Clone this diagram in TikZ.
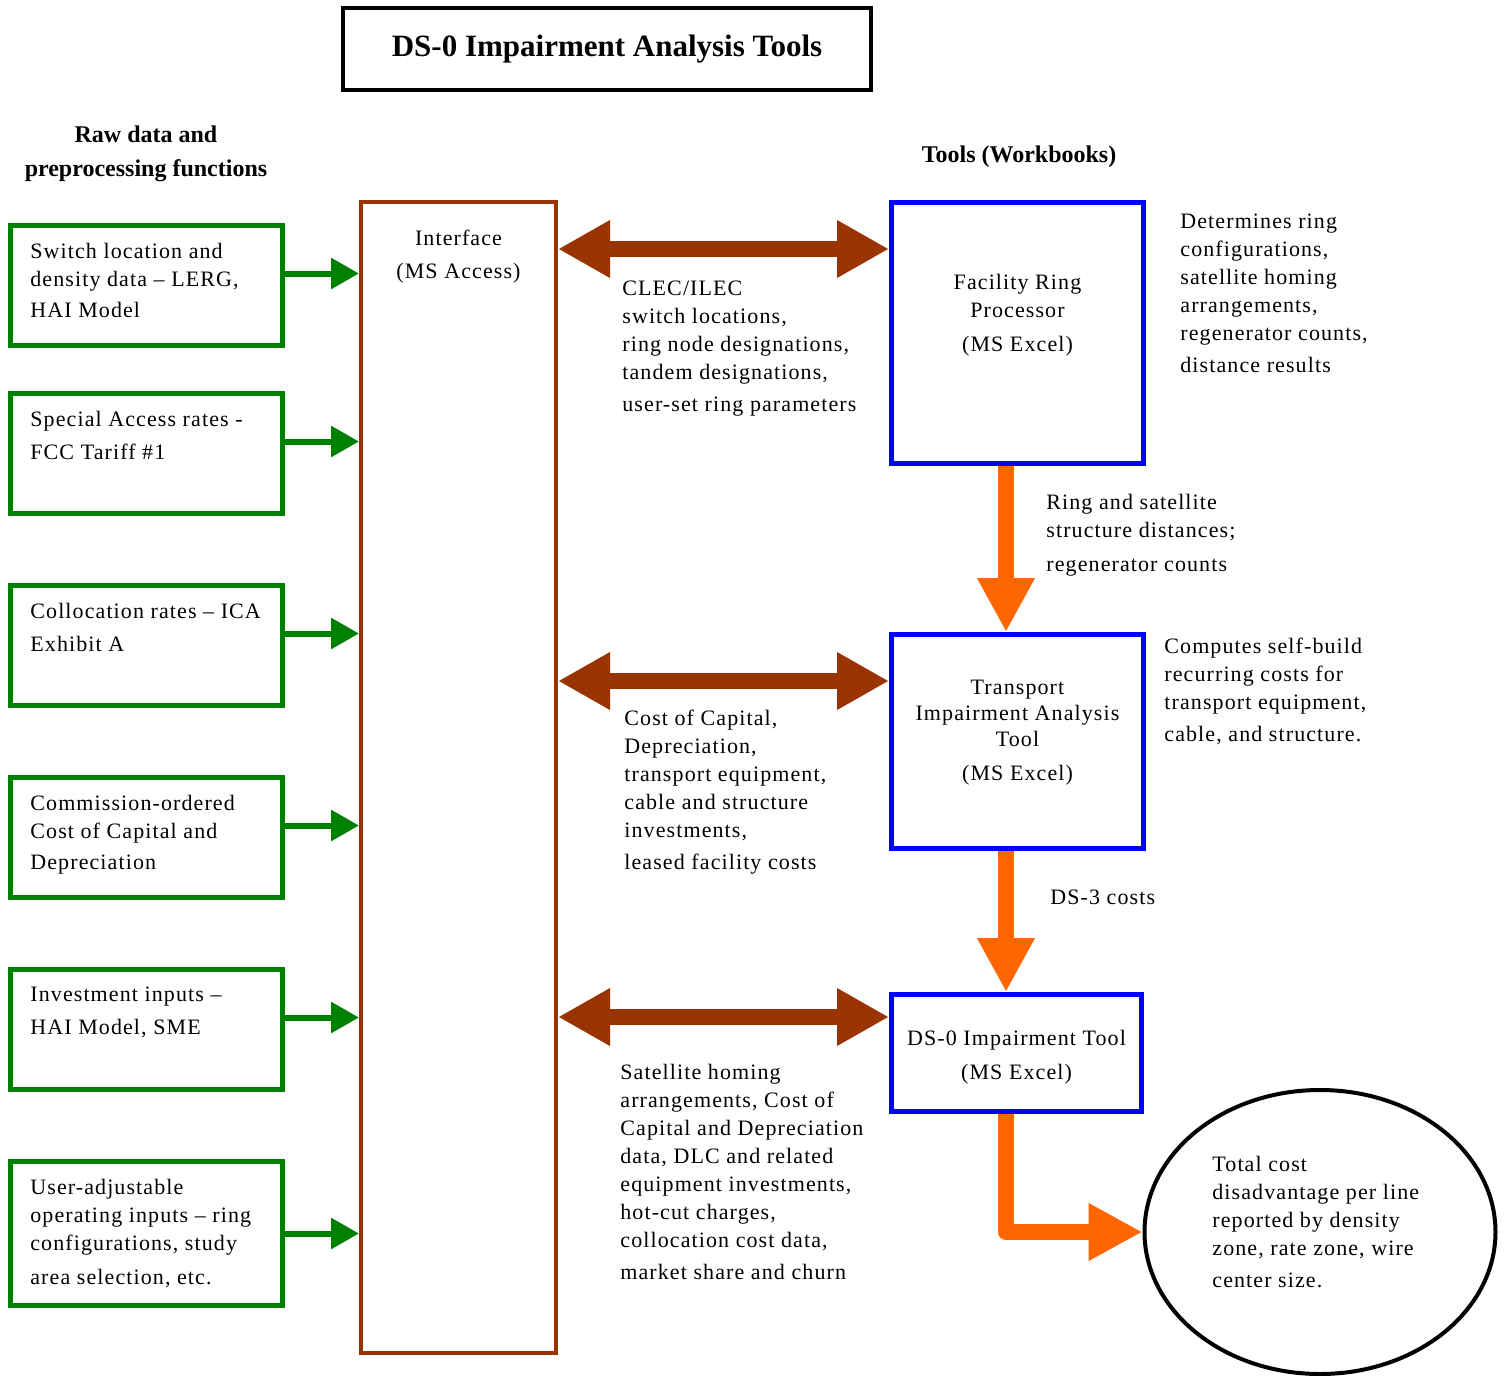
\documentclass[tikz,border=0pt]{standalone}
\usepackage{fontspec}
\setmainfont{Liberation Serif}
\newfontfamily\bodyfont[LetterSpace=5]{Liberation Serif}
\usetikzlibrary{arrows.meta, positioning, shapes.geometric}

\definecolor{rawgreen}{RGB}{0,128,0}
\definecolor{toolblue}{RGB}{0,0,255}
\definecolor{ifacebrown}{RGB}{153,51,0}
\definecolor{passorange}{RGB}{255,102,0}

\begin{document}
\begin{tikzpicture}[x=0.5pt, y=-0.5pt,
    rawbox/.style={draw=rawgreen, line width=2.5pt,
                   minimum width=136pt, minimum height=60pt, inner sep=0pt},
    toolbox/.style={draw=toolblue, line width=2.5pt,
                    minimum width=126pt, inner sep=0pt},
    body/.style={font=\bodyfont\fontsize{11}{14}\selectfont, inner sep=0pt},
    txt/.style={body, align=left, anchor=north west},
    head/.style={font=\bfseries\fontsize{12}{17}\selectfont, align=center},
    feed/.style={-{Triangle[length=14pt, width=15pt]}, draw=rawgreen, line width=3pt},
    swap/.style={{Triangle[length=26pt, width=27pt]}-{Triangle[length=26pt, width=27pt]},
                 draw=ifacebrown, line width=8pt},
    pass/.style={-{Triangle[length=27pt, width=27pt]}, draw=passorange,
                 line width=8pt, line join=round},
]
\useasboundingbox (0,0) rectangle (1510,1376);

% title and column heads
\node[draw, line width=2pt, minimum width=264pt, minimum height=41pt,
      font=\bfseries\fontsize{15.5}{18}\selectfont] (title) at (607,49)
     {DS-0 Impairment Analysis Tools};
\node[head] (rawhead) at (146,154) {Raw data and\\preprocessing functions};
\node[head] (toolhead) at (1019,157) {Tools (Workbooks)};

% raw data boxes
\node[rawbox] (g1) at (146.5,285.5) {};
\node[rawbox] (g2) at (146.5,453.5) {};
\node[rawbox] (g3) at (146.5,645.5) {};
\node[rawbox] (g4) at (146.5,837.5) {};
\node[rawbox] (g5) at (146.5,1029.5) {};
\node[rawbox, minimum height=72pt] (g6) at (146.5,1233.5) {};

\node[txt, below right=10pt and 11pt of g1.north west] (r1)
     {Switch location and\\density data – LERG,\\[1.5pt]HAI Model};
\node[txt, below right=10pt and 11pt of g2.north west] (r2)
     {Special Access rates -\\[2.5pt]FCC Tariff \#1};
\node[txt, below right=10pt and 11pt of g3.north west] (r3)
     {Collocation rates – ICA\\[2.5pt]Exhibit A};
\node[txt, below right=10pt and 11pt of g4.north west] (r4)
     {Commission-ordered\\Cost of Capital and\\[1.5pt]Depreciation};
\node[txt, below right=10pt and 11pt of g5.north west] (r5)
     {Investment inputs –\\[2.5pt]HAI Model, SME};
\node[txt, below right=10pt and 11pt of g6.north west] (r6)
     {User-adjustable\\operating inputs – ring\\configurations, study\\[3pt]area selection, etc.};

% interface
\node[draw=ifacebrown, line width=2pt, minimum width=97.5pt,
      minimum height=575.5pt, inner sep=0pt] (iface) at (458.5,777.5) {};
\node[body, align=center, below=15pt of iface.north] (ifacetxt)
     {Interface\\[2.5pt](MS Access)};

% workbooks
\node[toolbox, minimum height=130.5pt] (fr) at (1017.5,333) {};
\node[toolbox, minimum height=107pt] (tr) at (1017.5,741.5) {};
\node[toolbox, minimum width=125pt, minimum height=58.5pt] (ds0) at (1016.5,1053) {};

\node[body, align=center, below=37pt of fr.north] (frtxt)
     {Facility Ring\\Processor\\[3pt](MS Excel)};
\node[body, align=center, below=24pt of tr.north] (trtxt)
     {Transport\\[-1pt]Impairment Analysis\\[-1pt]Tool\\[3pt](MS Excel)};
\node[body, align=center, below=19pt of ds0.north] (ds0txt)
     {DS-0 Impairment Tool\\[3pt](MS Excel)};

% result
\node[ellipse, draw, line width=2pt, minimum width=175.5pt, minimum height=142pt]
     (tot) at (1320,1232) {};
\node[txt] (tottxt) at (1212,1156)
     {Total cost\\disadvantage per line\\reported by density\\zone, rate zone, wire\\[2pt]center size.};

% feeds into the interface
\foreach \b/\s in {g1/6pt, g2/6pt, g3/6pt, g4/6pt, g5/6pt, g6/0pt}
  \draw[feed] ([yshift=\s]\b.east) -- ([yshift=\s]\b.east -| iface.west);

% interface <-> workbooks
\coordinate (s1) at (0,249);
\coordinate (s2) at (0,681);
\coordinate (s3) at (0,1017);
\draw[swap] (iface.east |- s1) -- (fr.west |- s1);
\draw[swap] (iface.east |- s2) -- (tr.west |- s2);
\draw[swap] (iface.east |- s3) -- (ds0.west |- s3);

% workbook chain
\coordinate (ox) at (1006,0);
\draw[pass] (fr.south -| ox) -- (tr.north -| ox);
\draw[pass] (tr.south -| ox) -- (ds0.north -| ox);
\draw[pass] (ds0.south -| ox) |- (tot.west);

% exchanged data
\node[txt] (lk1) at (622,281)
     {CLEC/ILEC\\switch locations,\\ring node designations,\\tandem designations,\\[2pt]user-set ring parameters};
\node[txt] (lk2) at (624,710)
     {Cost of Capital,\\Depreciation,\\transport equipment,\\cable and structure\\investments,\\[2pt]leased facility costs};
\node[txt] (lk3) at (620,1064)
     {Satellite homing\\arrangements, Cost of\\Capital and Depreciation\\data, DLC and related\\equipment investments,\\hot-cut charges,\\collocation cost data,\\[2pt]market share and churn};

% notes
\node[txt] (n1) at (1180,214)
     {Determines ring\\configurations,\\satellite homing\\arrangements,\\regenerator counts,\\[2pt]distance results};
\node[txt] (n2) at (1046,494)
     {Ring and satellite\\structure distances;\\[3pt]regenerator counts};
\node[txt] (n3) at (1164,638)
     {Computes self-build\\recurring costs for\\transport equipment,\\[2pt]cable, and structure.};
\node[txt] (n4) at (1050,890) {DS-3 costs};

\end{tikzpicture}
\end{document}
